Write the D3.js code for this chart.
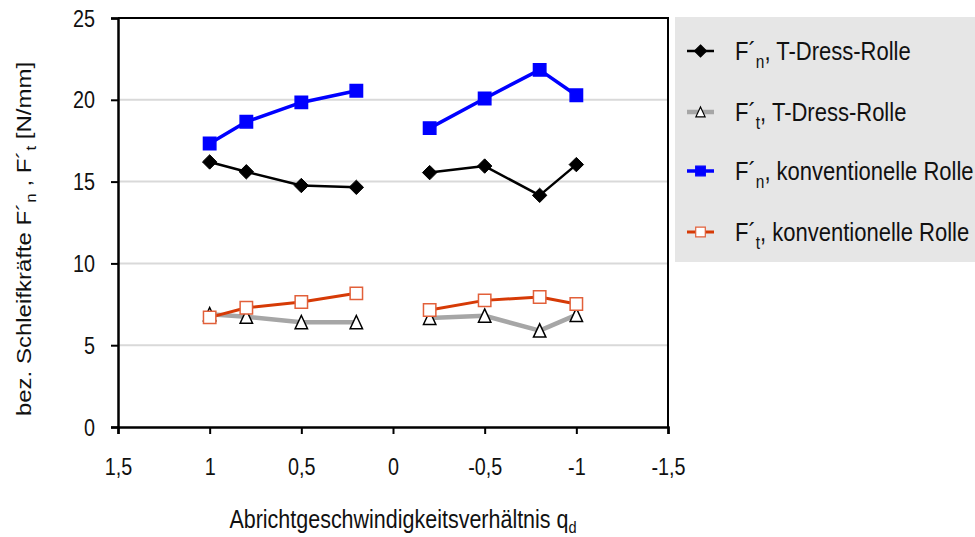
<!DOCTYPE html>
<html>
<head>
<meta charset="utf-8">
<script src="https://cdn.jsdelivr.net/npm/d3@7"></script>
<style>
  html, body { margin: 0; padding: 0; background: #fff; }
  svg { display: block; font-family: "Liberation Sans", Arial, sans-serif; }
</style>
</head>
<body>
<svg id="chart" width="975" height="537"></svg>
<script>
// Abrichtgeschwindigkeitsverhältnis q_d (x positions of the measurements)
const qd = [1, 0.8, 0.5, 0.2, -0.2, -0.5, -0.8, -1];

// bez. Schleifkräfte in N/mm
const fnTDress = [16.2, 15.6, 14.76, 14.65, 15.55, 15.95, 14.16, 16.04];
const ftTDress = [6.89, 6.74, 6.4, 6.4, 6.66, 6.8, 5.89, 6.85];
const fnKonv   = [17.33, 18.66, 19.84, 20.55, 18.27, 20.08, 21.83, 20.28];
const ftKonv   = [6.7, 7.29, 7.64, 8.17, 7.15, 7.74, 7.95, 7.52];

const xTicks = [1.5, 1, 0.5, 0, -0.5, -1, -1.5];
const yTicks = [0, 5, 10, 15, 20, 25];

const series = [
  { sub: "n", name: "T-Dress-Rolle", values: fnTDress, line: "#000000", lw: 2.5, marker: "diamond", fill: "#000000", stroke: "#000000" },
  { sub: "t", name: "T-Dress-Rolle", values: ftTDress, line: "#a6a6a6", lw: 4.5, marker: "triangle", fill: "#ffffff", stroke: "#000000" },
  { sub: "n", name: "konventionelle Rolle", values: fnKonv, line: "#0000ff", lw: 3.5, marker: "square", fill: "#0000ff", stroke: "#0000ff" },
  { sub: "t", name: "konventionelle Rolle", values: ftKonv, line: "#d63a06", lw: 3, marker: "square", fill: "#ffffff", stroke: "#e2603a" }
];

// text is set in a horizontally condensed face
const SX = 0.86;

const svg = d3.select("#chart");
const plot = { left: 118, right: 668, top: 18, bottom: 427 };

const x = d3.scaleLinear().domain([1.5, -1.5]).range([plot.left, plot.right]);
const y = d3.scaleLinear().domain([0, 25]).range([plot.bottom, plot.top]);

const fmt = d => String(d).replace(".", ",");

// gridlines
svg.append("g")
  .selectAll("line")
  .data(yTicks.filter(t => t > 0 && t < 25))
  .join("line")
  .attr("x1", plot.left).attr("x2", plot.right)
  .attr("y1", d => y(d)).attr("y2", d => y(d))
  .attr("stroke", "#d9d9d9").attr("stroke-width", 2);

// plot frame (top and right)
svg.append("path")
  .attr("d", `M${plot.left},${plot.top}H${plot.right}V${plot.bottom}`)
  .attr("fill", "none").attr("stroke", "#000").attr("stroke-width", 2);

// axes
const xAxis = svg.append("g")
  .attr("transform", `translate(0,${plot.bottom})`)
  .call(d3.axisBottom(x).tickValues(xTicks).tickFormat(fmt).tickSize(7));
const yAxis = svg.append("g")
  .attr("transform", `translate(${plot.left},0)`)
  .call(d3.axisLeft(y).tickValues(yTicks).tickSize(7));

[xAxis, yAxis].forEach(g => {
  g.select(".domain").attr("stroke", "#000").attr("stroke-width", 2.5);
  g.selectAll(".tick line").attr("stroke", "#000").attr("stroke-width", 2);
  g.selectAll(".tick text")
    .attr("fill", "#111")
    .style("font-size", "23px")
    .style("font-family", "inherit");
});
xAxis.selectAll(".tick text")
  .attr("x", 0).attr("y", 0).attr("dy", 0)
  .attr("transform", `translate(0,48) scale(${SX},1)`);
yAxis.selectAll(".tick text")
  .attr("x", 0).attr("dy", 0)
  .attr("transform", `translate(-23,8) scale(${SX},1)`);

// marker shapes
function markerPath(kind, r) {
  if (kind === "diamond") {
    return `M0,${-r}L${r},0L0,${r}L${-r},0Z`;
  }
  if (kind === "triangle") {
    const h = r * 1.1;
    return `M0,${-h}L${r},${h * 0.95}L${-r},${h * 0.95}Z`;
  }
  return `M${-r},${-r}H${r}V${r}H${-r}Z`;
}
const markerR = { diamond: 7.2, triangle: 6.2, square: 6.2 };

const line = d3.line().x(d => x(d.q)).y(d => y(d.v));

series.forEach(s => {
  const pts = qd.map((q, i) => ({ q, v: s.values[i] }));
  const parts = [pts.filter(p => p.q > 0), pts.filter(p => p.q < 0)];
  const g = svg.append("g");
  parts.forEach(part => {
    g.append("path")
      .datum(part)
      .attr("d", line)
      .attr("fill", "none")
      .attr("stroke", s.line)
      .attr("stroke-width", s.lw)
      .attr("stroke-linejoin", "round");
  });
  g.selectAll("path.m")
    .data(pts)
    .join("path")
    .attr("class", "m")
    .attr("transform", d => `translate(${x(d.q)},${y(d.v)})`)
    .attr("d", markerPath(s.marker, markerR[s.marker]))
    .attr("fill", s.fill)
    .attr("stroke", s.stroke)
    .attr("stroke-width", s.marker === "diamond" ? 1 : 1.5);
});

// legend
const legend = svg.append("g");
legend.append("rect")
  .attr("x", 675).attr("y", 17).attr("width", 310).attr("height", 245)
  .attr("fill", "#e6e6e6");

const legendY = [51, 112, 171, 232];
const legendR = { diamond: 6, triangle: 4.6, square: 4.8 };
series.forEach((s, i) => {
  const g = legend.append("g").attr("transform", `translate(0,${legendY[i]})`);
  g.append("line")
    .attr("x1", 687).attr("x2", 714).attr("y1", 0).attr("y2", 0)
    .attr("stroke", s.line).attr("stroke-width", s.lw);
  g.append("path")
    .attr("transform", "translate(700.5,0)")
    .attr("d", markerPath(s.marker, legendR[s.marker]))
    .attr("fill", s.fill)
    .attr("stroke", s.stroke)
    .attr("stroke-width", 1.2);
  const t = g.append("text")
    .attr("transform", `translate(735,9) scale(${SX},1)`)
    .attr("fill", "#111")
    .style("font-size", "25.6px");
  t.append("tspan").text("F\u00B4");
  t.append("tspan").attr("dy", 8).style("font-size", "18px").text(s.sub);
  t.append("tspan").attr("dy", -8).text(", " + s.name);
});

// axis titles
const xTitle = svg.append("text")
  .attr("transform", `translate(403,528) scale(${SX},1)`)
  .attr("text-anchor", "middle")
  .attr("fill", "#111")
  .style("font-size", "25px");
xTitle.append("tspan").text("Abrichtgeschwindigkeitsverhältnis q");
xTitle.append("tspan").attr("dy", 5).style("font-size", "17px").text("d");

const yTitle = svg.append("text")
  .attr("transform", `translate(31,239) scale(${SX},1) rotate(-90)`)
  .attr("text-anchor", "middle")
  .attr("fill", "#111")
  .style("font-size", "24px");
yTitle.append("tspan").text("bez. Schleifkräfte  F\u00B4");
yTitle.append("tspan").attr("dy", 6).style("font-size", "17px").text("n");
yTitle.append("tspan").attr("dy", -6).text(" , F\u00B4");
yTitle.append("tspan").attr("dy", 6).style("font-size", "17px").text("t");
yTitle.append("tspan").attr("dy", -6).text("  [N/mm]");
</script>
</body>
</html>
